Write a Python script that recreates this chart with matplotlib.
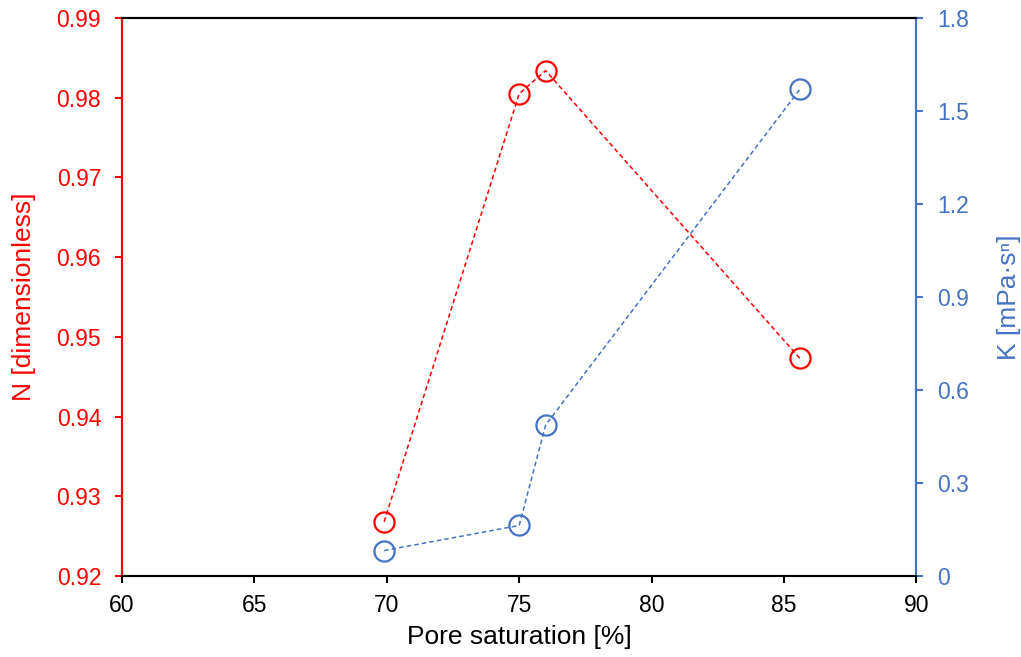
import matplotlib.pyplot as plt
import matplotlib as mpl

# datos
saturation = [69.9, 75.0, 76.0, 85.6]
n_index = [0.9268, 0.9805, 0.9834, 0.9473]
k_consistency = [0.082, 0.163, 0.487, 1.570]

x_ticks = [60, 65, 70, 75, 80, 85, 90]
n_ticks = [0.92, 0.93, 0.94, 0.95, 0.96, 0.97, 0.98, 0.99]
k_ticks = [0, 0.3, 0.6, 0.9, 1.2, 1.5, 1.8]

red = '#FF0000'
blue = '#4472C4'

mpl.rcParams.update({'font.family': 'Liberation Sans', 'font.size': 16.5})

fig = plt.figure(figsize=(10.21, 6.57), dpi=100)
ax = fig.add_axes([0.1195, 0.1233, 0.778, 0.8493])
ax2 = ax.twinx()

ax.plot(saturation, n_index, color=red, linestyle='--', dashes=(3, 2), lw=1.1,
        marker='o', markersize=14.5, markerfacecolor='none', markeredgewidth=1.6)
ax2.plot(saturation, k_consistency, color=blue, linestyle='--', dashes=(3, 2), lw=1.1,
         marker='o', markersize=14.5, markerfacecolor='none', markeredgewidth=1.6)

ax.set_xlim(60, 90)
ax.set_ylim(0.92, 0.99)
ax2.set_ylim(0, 1.8)
ax.set_xticks(x_ticks)
ax.set_yticks(n_ticks)
ax.set_yticklabels([f'{v:.2f}' for v in n_ticks])
ax2.set_yticks(k_ticks)
ax2.set_yticklabels(['0'] + [f'{v:.1f}' for v in k_ticks[1:]])

ax.set_xlabel('Pore saturation [%]', fontsize=19, labelpad=6)
ax.set_ylabel('N [dimensionless]', color=red, fontsize=19, labelpad=15)
ax2.set_ylabel('K [mPa·s\u207f]', color=blue, fontsize=19, labelpad=20)

for a in (ax, ax2):
    a.spines['left'].set_color(red)
    a.spines['right'].set_color(blue)
    a.spines['top'].set_color('black')
    a.spines['bottom'].set_color('black')
    for s in a.spines.values():
        s.set_linewidth(1.5)

ax.tick_params(axis='y', colors=red, direction='out', length=5, width=1.5, pad=10)
ax.tick_params(axis='x', direction='out', length=5, width=1.5, pad=8)
ax2.tick_params(axis='y', colors=blue, direction='out', length=5, width=1.5, pad=10)

plt.savefig('out.png', dpi=100)
